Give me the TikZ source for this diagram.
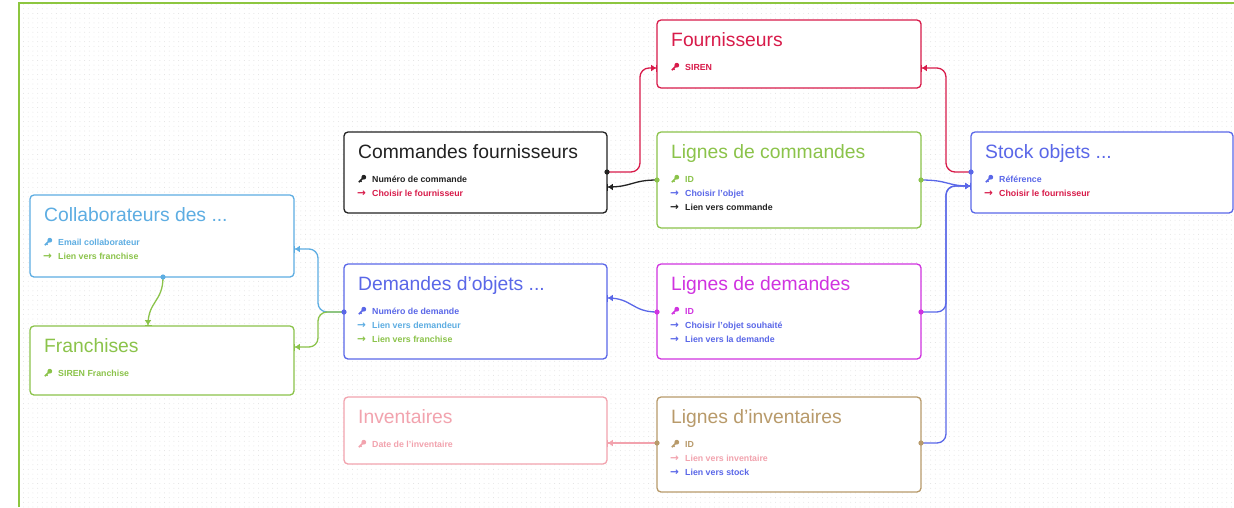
\documentclass[tikz,border=0pt]{standalone}
\usepackage{fontspec}
\setmainfont{Liberation Sans}
\newfontfamily\symfont{DejaVu Sans}
\usetikzlibrary{arrows.meta,calc,patterns.meta}
\definecolor{cRed}{HTML}{D81B4A}
\definecolor{cBlack}{HTML}{222222}
\definecolor{cGreen}{HTML}{8BC34A}
\definecolor{cBlue}{HTML}{5A67E8}
\definecolor{cLBlue}{HTML}{5DADE2}
\definecolor{cMag}{HTML}{D033E0}
\definecolor{cPink}{HTML}{F2A3AE}
\definecolor{cTan}{HTML}{B89A6A}
\definecolor{cFrame}{HTML}{8DC63F}
\tikzset{
  box/.style={draw, fill=white, rounded corners=4pt, line width=1.3pt, anchor=north west, inner sep=0pt, outer sep=0pt},
  ttl/.style={anchor=base west, inner sep=0pt, font=\fontsize{19.3}{24}\selectfont},
  rowtxt/.style={anchor=base west, inner sep=0pt, font=\fontsize{8.8}{10}\selectfont\bfseries},
  arrtxt/.style={anchor=base west, inner sep=0pt, font=\fontsize{10.5}{12}\selectfont\bfseries\symfont},
  conn/.style={line width=1.3pt, rounded corners=9pt},
  tipend/.style={-{Triangle[length=4.5pt,width=6pt]Bar[width=7pt]}},
  keyicon/.pic={
    \fill (1.8,-1.8) circle[radius=2.4pt];
    \draw[line width=1.5pt] (1.8,-1.8) -- (-3.2,3.2);
    \draw[line width=1.2pt] (-1.6,1.6) -- (-0.4,2.8);
  }
}
\newcommand\ebox[7]{%
  \node[box, draw=#6, minimum width={(#4-#2)*1pt}, minimum height={(#5-#3)*1pt}] (#1) at (#2,#3) {};
  \node[ttl, text=#6] (#1-t) at ($(#1.north west)+(14,26)$) {#7};}
\newcommand\keyrow[4]{%
  \pic[color=#3] at ($(#1.north west)+(18,{33+14*#2})$) {keyicon};
  \node[rowtxt, text=#3] (#1-r#2) at ($(#1.north west)+(28,{36+14*#2})$) {#4};}
\newcommand\arrrow[4]{%
  \node[arrtxt, text=#3] (#1-a#2) at ($(#1.north west)+(13,{36.5+14*#2})$) {→};
  \node[rowtxt, text=#3] (#1-r#2) at ($(#1.north west)+(28,{36+14*#2})$) {#4};}
\begin{document}
\begin{tikzpicture}[x=1pt,y=-1pt]
\useasboundingbox (0,0) rectangle (1234,507);
\fill[white] (0,0) rectangle (1234,507);
\fill[pattern={Dots[distance=4.7pt,radius=0.45pt]}, pattern color=black!12] (20,4) rectangle (1234,507);
\draw[cFrame, line width=2pt] (19,507) -- (19,3) -- (1234,3);

% boxes
\ebox{fo}{657}{20}{921}{88}{cRed}{Fournisseurs}
\keyrow{fo}{1}{cRed}{SIREN}

\ebox{cf}{344}{132}{607}{213}{cBlack}{Commandes fournisseurs}
\keyrow{cf}{1}{cBlack}{Numéro de commande}
\arrrow{cf}{2}{cRed}{Choisir le fournisseur}

\ebox{lc}{657}{132}{921}{228}{cGreen}{Lignes de commandes}
\keyrow{lc}{1}{cGreen}{ID}
\arrrow{lc}{2}{cBlue}{Choisir l'objet}
\arrrow{lc}{3}{cBlack}{Lien vers commande}

\ebox{st}{971}{132}{1233}{213}{cBlue}{Stock objets ...}
\keyrow{st}{1}{cBlue}{Référence}
\arrrow{st}{2}{cRed}{Choisir le fournisseur}

\ebox{col}{30}{195}{294}{277}{cLBlue}{Collaborateurs des ...}
\keyrow{col}{1}{cLBlue}{Email collaborateur}
\arrrow{col}{2}{cGreen}{Lien vers franchise}

\ebox{fr}{30}{326}{294}{395}{cGreen}{Franchises}
\keyrow{fr}{1}{cGreen}{SIREN Franchise}

\ebox{dm}{344}{264}{607}{359}{cBlue}{Demandes d'objets ...}
\keyrow{dm}{1}{cBlue}{Numéro de demande}
\arrrow{dm}{2}{cLBlue}{Lien vers demandeur}
\arrrow{dm}{3}{cGreen}{Lien vers franchise}

\ebox{ld}{657}{264}{921}{359}{cMag}{Lignes de demandes}
\keyrow{ld}{1}{cMag}{ID}
\arrrow{ld}{2}{cBlue}{Choisir l'objet souhaité}
\arrrow{ld}{3}{cBlue}{Lien vers la demande}

\ebox{inv}{344}{397}{607}{464}{cPink}{Inventaires}
\keyrow{inv}{1}{cPink}{Date de l'inventaire}

\ebox{li}{657}{397}{921}{492}{cTan}{Lignes d'inventaires}
\keyrow{li}{1}{cTan}{ID}
\arrrow{li}{2}{cPink}{Lien vers inventaire}
\arrrow{li}{3}{cBlue}{Lien vers stock}

% ports
\coordinate (cf-p1) at ($(cf.north east)+(0,40)$);
\coordinate (cf-p2) at ($(cf.north east)+(0,55)$);
\coordinate (fo-l) at ($(fo.north west)+(0,48)$);
\coordinate (fo-r) at ($(fo.north east)+(0,48)$);
\coordinate (lc-l) at ($(lc.north west)+(0,48)$);
\coordinate (lc-r) at ($(lc.north east)+(0,48)$);
\coordinate (st-p1) at ($(st.north west)+(0,40)$);
\coordinate (st-p2) at ($(st.north west)+(0,54)$);
\coordinate (col-r) at ($(col.north east)+(0,54)$);
\coordinate (col-b) at ($(col.south west)+(133,0)$);
\coordinate (fr-r) at ($(fr.north east)+(0,21)$);
\coordinate (fr-t) at ($(fr.north west)+(118,0)$);
\coordinate (dm-r) at ($(dm.north east)+(0,34)$);
\coordinate (dm-l) at ($(dm.north west)+(0,48)$);
\coordinate (ld-l) at ($(ld.north west)+(0,48)$);
\coordinate (ld-r) at ($(ld.north east)+(0,48)$);
\coordinate (inv-r) at ($(inv.north east)+(0,46)$);
\coordinate (li-l) at ($(li.north west)+(0,46)$);
\coordinate (li-r) at ($(li.north east)+(0,46)$);

% connectors
\draw[conn, cRed, tipend] (cf-p1) -| ([xshift=-17pt]fo-l) -- (fo-l);
\draw[conn, cRed, tipend] (st-p1) -| ([xshift=25pt]fo-r) -- (fo-r);
\draw[conn, cBlack, tipend] (lc-l) .. controls +(-25,0) and +(25,0) .. (cf-p2);
\draw[conn, cBlue, tipend] (lc-r) .. controls +(28,0) and +(-25,0) .. (st-p2);
\draw[conn, cBlue, tipend] (ld-r) -| ([xshift=-25pt]st-p2) -- (st-p2);
\draw[conn, cBlue, tipend] (li-r) -| ([xshift=-25pt]st-p2) -- (st-p2);
\draw[conn, cBlue, tipend] (ld-l) .. controls +(-25,0) and +(25,0) .. (dm-r);
\draw[conn, cLBlue, tipend] (dm-l) -| ([xshift=24pt]col-r) -- (col-r);
\draw[conn, cGreen, tipend] (dm-l) -| ([xshift=24pt]fr-r) -- (fr-r);
\draw[conn, cGreen, tipend] (col-b) .. controls +(0,25) and +(0,-25) .. (fr-t);
\draw[conn, cPink, tipend] (li-l) -- (inv-r);

% source dots
\fill[cBlack] (cf-p1) circle[radius=2.6pt];
\fill[cBlue] (st-p1) circle[radius=2.6pt];
\fill[cGreen] (lc-l) circle[radius=2.6pt];
\fill[cGreen] (lc-r) circle[radius=2.6pt];
\fill[cMag] (ld-r) circle[radius=2.6pt];
\fill[cMag] (ld-l) circle[radius=2.6pt];
\fill[cTan] (li-r) circle[radius=2.6pt];
\fill[cTan] (li-l) circle[radius=2.6pt];
\fill[cBlue] (dm-l) circle[radius=2.6pt];
\fill[cLBlue] (col-b) circle[radius=2.6pt];
\end{tikzpicture}
\end{document}
